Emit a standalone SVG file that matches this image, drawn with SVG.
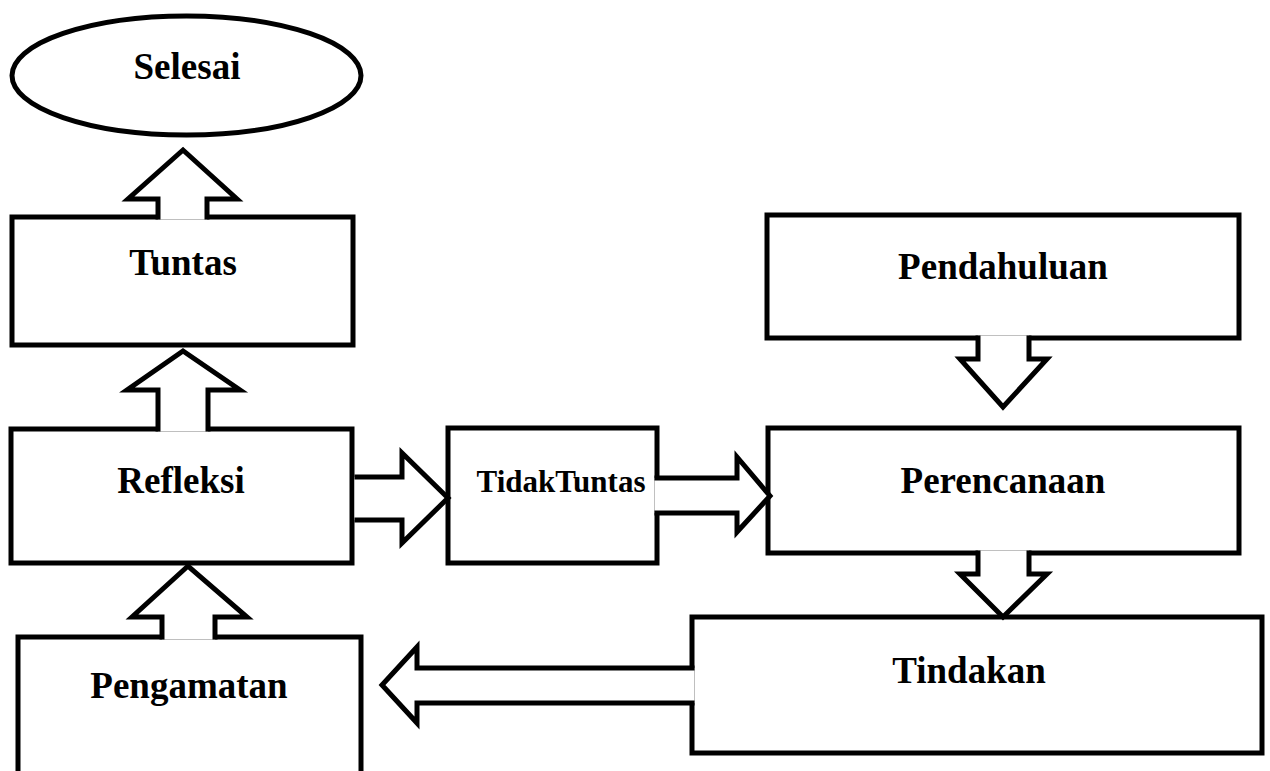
<svg xmlns="http://www.w3.org/2000/svg" width="1270" height="771" viewBox="0 0 1270 771">
<style>
.box{fill:#fff;stroke:#000;stroke-width:5;stroke-linejoin:miter}
.arr{fill:#fff;stroke:#000;stroke-width:5;stroke-linejoin:miter;stroke-miterlimit:10}
.lbl{font-family:"Liberation Serif","Times New Roman",serif;font-weight:bold;font-size:37px;fill:#000;text-anchor:middle}
.sm{font-size:31px}
</style>
<rect width="1270" height="771" fill="#fff"/>
<g id="selesai"><ellipse class="box" cx="186.5" cy="75.5" rx="174.5" ry="59.5"/><text class="lbl" x="187" y="79">Selesai</text></g>
<g id="tuntas"><rect class="box" x="12" y="217" width="341" height="128"/><text class="lbl" x="183" y="275">Tuntas</text></g>
<g id="refleksi"><rect class="box" x="11" y="429" width="341" height="134"/><text class="lbl" x="181" y="493">Refleksi</text></g>
<g id="pengamatan"><rect class="box" x="18" y="637" width="343" height="200"/><text class="lbl" x="189" y="698">Pengamatan</text></g>
<g id="tidaktuntas"><rect class="box" x="448" y="428" width="209" height="135"/><text class="lbl sm" x="561" y="492">TidakTuntas</text></g>
<g id="pendahuluan"><rect class="box" x="767" y="215" width="472" height="123"/><text class="lbl" x="1003" y="279">Pendahuluan</text></g>
<g id="perencanaan"><rect class="box" x="768" y="428" width="471" height="125"/><text class="lbl" x="1003" y="493">Perencanaan</text></g>
<g id="tindakan"><rect class="box" x="692" y="617" width="570" height="136"/><text class="lbl" x="969" y="683">Tindakan</text></g>
<g id="connectors">
<path class="arr" d="M158,219.5 V199 H128 L183,150 L237,199 H207 V219.5"/>
<path class="arr" d="M158,431.5 V390 H127 L183,351 L240,390 H208 V431.5"/>
<path class="arr" d="M162,639.5 V617 H132 L188,566 L247,617 H215 V639.5"/>
<path class="arr" d="M354.5,477 H402 V453 L448,498 L402,543 V520 H354.5"/>
<path class="arr" d="M654.5,478 H737 V457 L770,496 L737,532 V513 H654.5"/>
<path class="arr" d="M694.5,668 H417 V647 L382,685 L417,723 V703 H694.5"/>
<path class="arr" d="M978,335.5 V359 H960 L1003,407 L1047,359 H1029 V335.5"/>
<path class="arr" d="M978,550.5 V574 H960 L1003,617 L1047,574 H1029 V550.5"/>
</g>
</svg>
